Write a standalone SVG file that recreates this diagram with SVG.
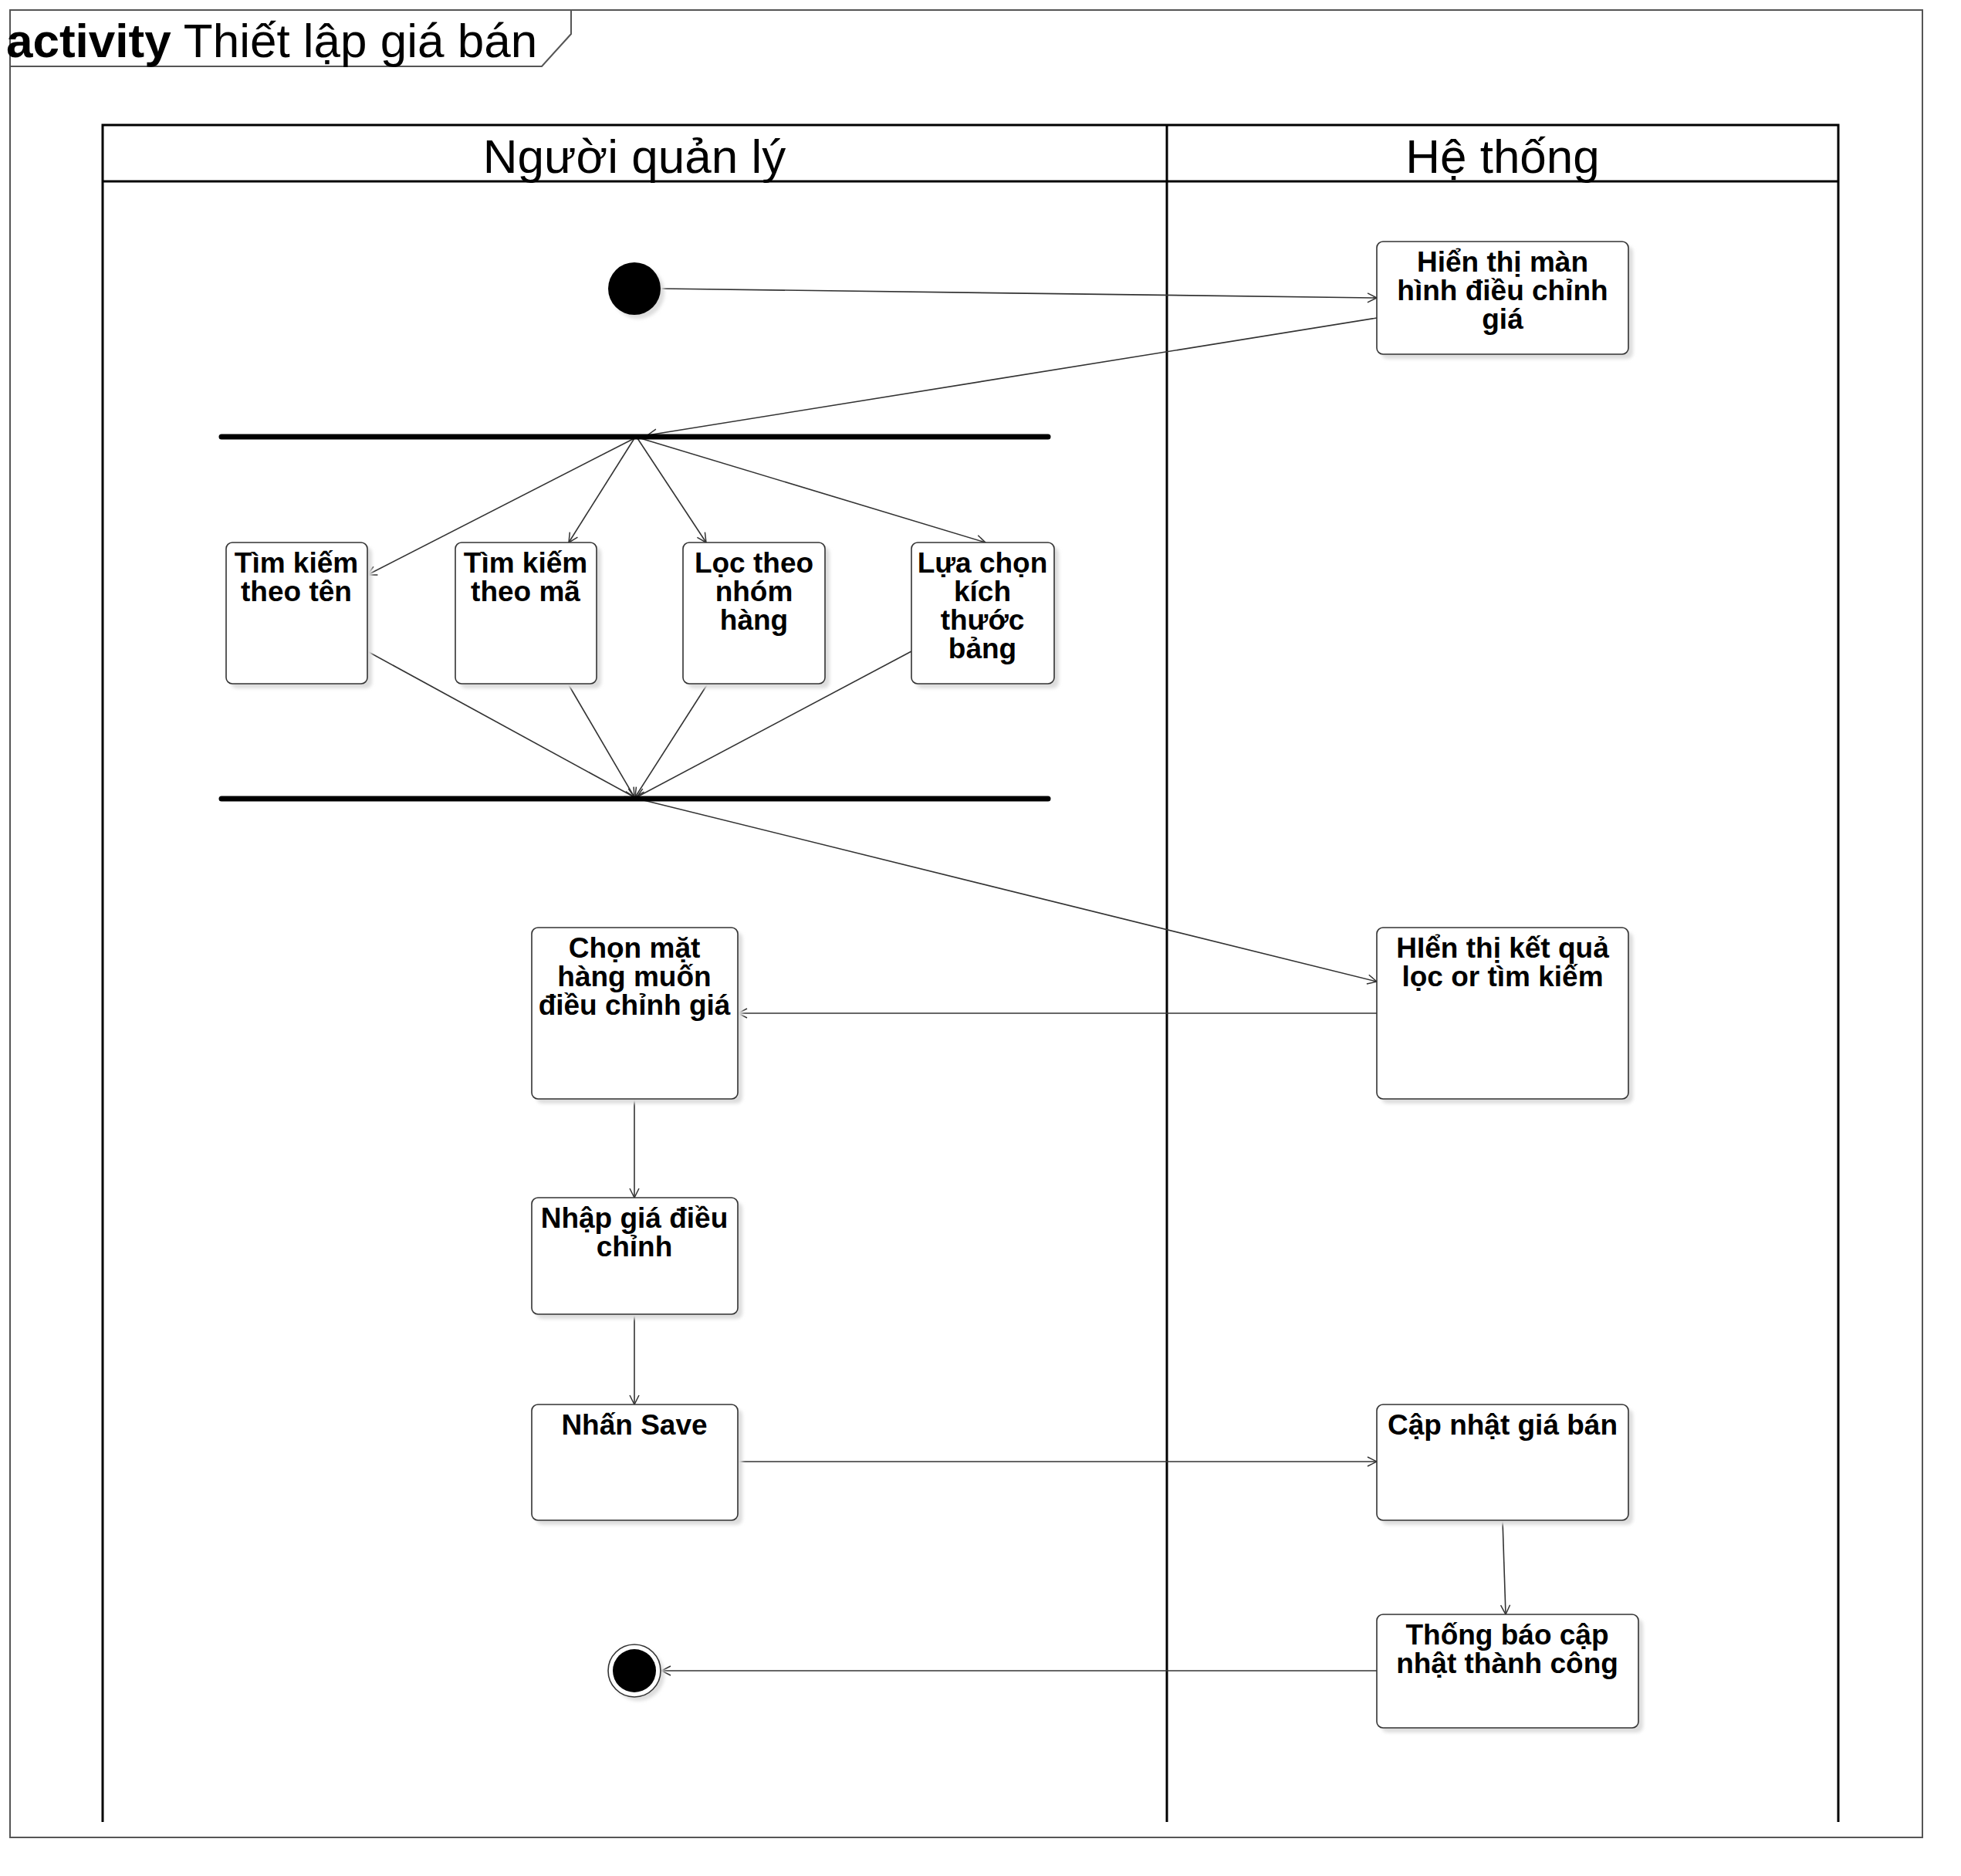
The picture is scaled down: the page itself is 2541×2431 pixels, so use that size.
<svg xmlns="http://www.w3.org/2000/svg" width="2541" height="2431" viewBox="0 0 2541 2431">
<defs>
<marker id="arr" markerWidth="16" markerHeight="16" refX="14" refY="8" orient="auto" markerUnits="userSpaceOnUse">
<path d="M2,2 L14,8 L2,14" fill="none" stroke="#333" stroke-width="1.5"/>
</marker>
<filter id="sh" x="-10%" y="-10%" width="130%" height="130%">
<feGaussianBlur stdDeviation="2"/>
</filter>
</defs>
<style>
.frame{fill:none;stroke:#555;stroke-width:2}
.lane{fill:none;stroke:#000;stroke-width:3}
.box{fill:#fff;stroke:#333;stroke-width:1.6}
.shadow{fill:#ddd;filter:url(#sh)}
.lbl{font-family:"Liberation Sans",Arial,sans-serif;font-weight:bold;font-size:37px;text-anchor:middle;fill:#000}
.hdr{font-family:"Liberation Sans",Arial,sans-serif;font-size:62px;text-anchor:middle;fill:#000}
.edge{fill:none;stroke:#333;stroke-width:1.6;marker-end:url(#arr)}
.bar{stroke:#000;stroke-width:7;stroke-linecap:round}
</style>
<rect width="2541" height="2431" fill="#fff"/>
<g id="frame">
<rect class="frame" x="13" y="13" width="2478" height="2368"/>
<path class="frame" d="M13,86 L702,86 L740,44 L740,13"/>
<text x="8" y="74" font-family="Liberation Sans,Arial,sans-serif" font-size="62"><tspan font-weight="bold">activity</tspan> Thiết lập giá bán</text>
</g>
<g id="lanes">
<path class="lane" d="M133,2361 L133,162 L2382,162 L2382,2361 M133,235 L2382,235 M1512,162 L1512,2361"/>
<text class="hdr" x="822" y="224">Người quản lý</text>
<text class="hdr" x="1947" y="224">Hệ thống</text>
</g>
<g id="connectors">
<line class="edge" x1="857" y1="374" x2="1784" y2="386"/>
<line class="edge" x1="1784" y1="412" x2="839" y2="564"/>
<line class="edge" x1="822" y1="568" x2="476" y2="745"/>
<line class="edge" x1="822" y1="568" x2="737" y2="703"/>
<line class="edge" x1="826" y1="568" x2="915" y2="703"/>
<line class="edge" x1="830" y1="568" x2="1277" y2="703"/>
<line class="edge" x1="476" y1="844" x2="822" y2="1033"/>
<line class="edge" x1="736" y1="886" x2="822" y2="1033"/>
<line class="edge" x1="917" y1="886" x2="823" y2="1033"/>
<line class="edge" x1="1181" y1="844" x2="825" y2="1033"/>
<line class="edge" x1="834" y1="1037" x2="1784" y2="1272"/>
<line class="edge" x1="1784" y1="1313" x2="956" y2="1313"/>
<line class="edge" x1="822" y1="1424" x2="822" y2="1552"/>
<line class="edge" x1="822" y1="1703" x2="822" y2="1820"/>
<line class="edge" x1="956" y1="1894" x2="1784" y2="1894"/>
<line class="edge" x1="1947" y1="1970" x2="1951" y2="2092"/>
<line class="edge" x1="1784" y1="2165" x2="857" y2="2165"/>
</g>
<g id="start">
<circle cx="827" cy="379" r="34" fill="#ddd" filter="url(#sh)"/>
<circle cx="822" cy="374" r="34" fill="#000"/>
</g>
<g id="fork1">
<line x1="287" y1="572" x2="1364" y2="572" stroke="#ddd" stroke-width="7" stroke-linecap="round" filter="url(#sh)"/>
<line class="bar" x1="287" y1="566" x2="1358" y2="566"/>
</g>
<g id="join1">
<line x1="287" y1="1041" x2="1364" y2="1041" stroke="#ddd" stroke-width="7" stroke-linecap="round" filter="url(#sh)"/>
<line class="bar" x1="287" y1="1035" x2="1358" y2="1035"/>
</g>
<g id="n_hienthi_manhinh">
<rect class="shadow" x="1790" y="319" width="326" height="146" rx="8"/>
<rect class="box" x="1784" y="313" width="326" height="146" rx="8"/>
<text class="lbl" x="1947" y="352">Hiển thị màn</text>
<text class="lbl" x="1947" y="389">hình điều chỉnh</text>
<text class="lbl" x="1947" y="426">giá</text>
</g>
<g id="n_tim_ten">
<rect class="shadow" x="299" y="709" width="183" height="183" rx="8"/>
<rect class="box" x="293" y="703" width="183" height="183" rx="8"/>
<text class="lbl" x="384" y="742">Tìm kiếm</text>
<text class="lbl" x="384" y="779">theo tên</text>
</g>
<g id="n_tim_ma">
<rect class="shadow" x="596" y="709" width="183" height="183" rx="8"/>
<rect class="box" x="590" y="703" width="183" height="183" rx="8"/>
<text class="lbl" x="681" y="742">Tìm kiếm</text>
<text class="lbl" x="681" y="779">theo mã</text>
</g>
<g id="n_loc">
<rect class="shadow" x="891" y="709" width="184" height="183" rx="8"/>
<rect class="box" x="885" y="703" width="184" height="183" rx="8"/>
<text class="lbl" x="977" y="742">Lọc theo</text>
<text class="lbl" x="977" y="779">nhóm</text>
<text class="lbl" x="977" y="816">hàng</text>
</g>
<g id="n_luachon">
<rect class="shadow" x="1187" y="709" width="185" height="183" rx="8"/>
<rect class="box" x="1181" y="703" width="185" height="183" rx="8"/>
<text class="lbl" x="1273" y="742">Lựa chọn</text>
<text class="lbl" x="1273" y="779">kích</text>
<text class="lbl" x="1273" y="816">thước</text>
<text class="lbl" x="1273" y="853">bảng</text>
</g>
<g id="n_chon">
<rect class="shadow" x="695" y="1208" width="267" height="222" rx="8"/>
<rect class="box" x="689" y="1202" width="267" height="222" rx="8"/>
<text class="lbl" x="822" y="1241">Chọn mặt</text>
<text class="lbl" x="822" y="1278">hàng muốn</text>
<text class="lbl" x="822" y="1315">điều chỉnh giá</text>
</g>
<g id="n_ketqua">
<rect class="shadow" x="1790" y="1208" width="326" height="222" rx="8"/>
<rect class="box" x="1784" y="1202" width="326" height="222" rx="8"/>
<text class="lbl" x="1947" y="1241">HIển thị kết quả</text>
<text class="lbl" x="1947" y="1278">lọc or tìm kiếm</text>
</g>
<g id="n_nhapgia">
<rect class="shadow" x="695" y="1558" width="267" height="151" rx="8"/>
<rect class="box" x="689" y="1552" width="267" height="151" rx="8"/>
<text class="lbl" x="822" y="1591">Nhập giá điều</text>
<text class="lbl" x="822" y="1628">chỉnh</text>
</g>
<g id="n_save">
<rect class="shadow" x="695" y="1826" width="267" height="150" rx="8"/>
<rect class="box" x="689" y="1820" width="267" height="150" rx="8"/>
<text class="lbl" x="822" y="1859">Nhấn Save</text>
</g>
<g id="n_capnhat">
<rect class="shadow" x="1790" y="1826" width="326" height="150" rx="8"/>
<rect class="box" x="1784" y="1820" width="326" height="150" rx="8"/>
<text class="lbl" x="1947" y="1859">Cập nhật giá bán</text>
</g>
<g id="n_thongbao">
<rect class="shadow" x="1790" y="2098" width="339" height="147" rx="8"/>
<rect class="box" x="1784" y="2092" width="339" height="147" rx="8"/>
<text class="lbl" x="1953" y="2131">Thống báo cập</text>
<text class="lbl" x="1953" y="2168">nhật thành công</text>
</g>
<g id="end">
<circle cx="827" cy="2170" r="34" fill="#ddd" filter="url(#sh)"/>
<circle cx="822" cy="2165" r="34" fill="#fff" stroke="#333" stroke-width="1.6"/>
<circle cx="822" cy="2165" r="28" fill="#000"/>
</g>
</svg>
